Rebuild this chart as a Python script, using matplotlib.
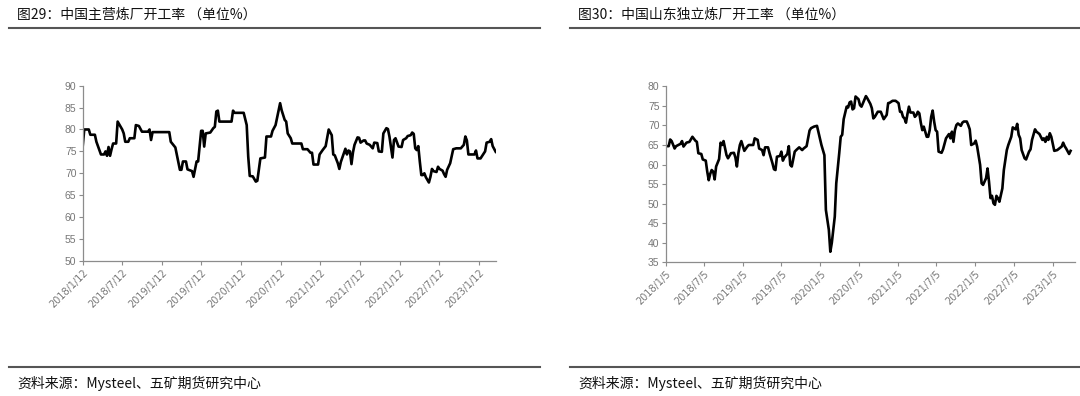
import numpy as np
import pandas as pd
import matplotlib
matplotlib.use("Agg")
import matplotlib.pyplot as plt
from matplotlib.lines import Line2D

plt.rcParams['font.family'] = ['Noto Sans CJK SC', 'DejaVu Sans']

# Fig.29: China main refineries operating rate (weeks since 2018/1/12)
main_start = "2018-01-12"
main_weeks = [0, 1, 4, 5, 8, 9, 11, 12, 14, 15, 16, 17, 18, 19, 20, 22, 23, 25, 26, 27,
              28, 30, 31, 34, 35, 37, 39, 43, 44, 45, 46, 57, 58, 61, 62, 64, 65, 66, 68, 69,
              72, 73, 75, 76, 78, 79, 80, 81, 84, 86, 87, 88, 89, 90, 98, 99, 100, 106, 108, 109,
              110, 112, 114, 115, 117, 120, 121, 124, 125, 127, 130, 131, 133, 134, 135, 137, 138, 144, 145, 148,
              150, 151, 152, 155, 156, 158, 160, 162, 164, 165, 166, 168, 169, 170, 172, 173, 174, 175, 176, 177,
              178, 179, 181, 182, 183, 185, 186, 187, 189, 191, 192, 194, 195, 197, 198, 200, 201, 202, 204, 205,
              206, 208, 210, 211, 213, 214, 216, 217, 218, 219, 220, 221, 222, 223, 224, 225, 226, 228, 229, 230,
              231, 233, 234, 235, 237, 238, 239, 240, 242, 244, 246, 249, 251, 252, 253, 254, 258, 259, 260, 262,
              265, 266, 268, 269, 270, 272]
main_rate = [76.2, 80.0, 80.0, 78.8, 78.8, 77.2, 75.3, 74.3, 74.3, 75.0, 74.0, 76.0, 74.0, 75.5, 76.8, 76.8, 81.8, 80.6, 80.0, 79.1,
             77.2, 77.2, 78.0, 78.0, 81.0, 80.8, 79.5, 79.5, 80.0, 77.6, 79.4, 79.4, 77.2, 75.9, 74.2, 70.8, 70.8, 72.7, 72.7, 70.9,
             70.5, 69.2, 72.7, 72.7, 79.7, 79.7, 76.1, 79.1, 79.3, 80.3, 80.6, 84.1, 84.3, 81.8, 81.8, 84.3, 83.8, 83.8, 81.0, 73.8,
             69.4, 69.3, 68.1, 68.3, 73.4, 73.6, 78.4, 78.4, 79.7, 81.0, 86.0, 84.4, 82.2, 81.8, 79.1, 78.0, 76.8, 76.8, 75.5, 75.5,
             74.7, 74.7, 72.0, 72.0, 74.3, 75.3, 76.2, 80.0, 78.7, 74.3, 74.1, 72.3, 71.0, 72.6, 74.6, 75.6, 74.3, 75.2, 75.0, 72.1,
             74.8, 76.5, 78.2, 78.1, 77.0, 77.5, 77.5, 76.8, 76.5, 75.7, 77.0, 76.9, 75.0, 74.9, 79.1, 80.3, 80.1, 78.4, 73.6, 77.6,
             78.0, 76.1, 76.0, 77.6, 78.0, 78.5, 78.7, 79.3, 79.0, 75.7, 75.3, 76.2, 72.7, 69.6, 69.6, 70.0, 69.1, 67.9, 69.2, 71.0,
             70.5, 70.3, 71.5, 71.0, 70.6, 69.8, 69.2, 70.8, 72.3, 75.5, 75.7, 75.7, 76.5, 78.4, 77.5, 74.3, 74.3, 75.2, 73.4, 73.4,
             75.0, 77.0, 77.2, 77.8, 76.2, 74.9]

# Fig.30: Shandong independent refineries operating rate (weeks since 2018/1/5)
sd_start = "2018-01-05"
sd_weeks = [0, 2, 3, 4, 6, 7, 10, 11, 12, 14, 16, 18, 20, 21, 22, 24, 25, 27, 28, 29,
            30, 31, 32, 33, 34, 36, 37, 38, 39, 41, 42, 44, 46, 47, 48, 49, 50, 51, 52, 53,
            55, 56, 59, 60, 62, 63, 65, 66, 67, 69, 70, 72, 73, 74, 75, 77, 78, 79, 80, 82,
            83, 84, 85, 87, 88, 90, 92, 93, 95, 97, 98, 100, 102, 104, 105, 107, 108, 110, 111, 112,
            114, 115, 117, 118, 119, 120, 122, 123, 124, 125, 126, 127, 128, 130, 131, 132, 133, 135, 136, 138,
            139, 140, 141, 143, 145, 147, 149, 150, 151, 153, 155, 157, 158, 159, 160, 161, 162, 163, 164, 165,
            167, 168, 169, 170, 171, 172, 173, 174, 176, 177, 178, 179, 180, 181, 182, 183, 184, 186, 187, 189,
            191, 192, 193, 194, 195, 196, 197, 199, 200, 201, 203, 204, 205, 206, 208, 209, 210, 212, 213, 214,
            216, 217, 218, 219, 220, 221, 222, 223, 224, 225, 227, 228, 230, 231, 233, 234, 236, 237, 238, 239,
            240, 242, 243, 245, 246, 247, 249, 250, 252, 254, 255, 256, 257, 258, 259, 260, 262, 264, 266, 267,
            268, 269, 270, 272, 273]
sd_rate = [64.7, 64.7, 66.4, 66.0, 64.1, 64.7, 65.3, 66.0, 64.6, 65.6, 65.8, 67.1, 66.1, 65.8, 62.9, 62.7, 61.3, 61.0, 58.2, 56.0,
           57.6, 58.6, 58.2, 56.2, 59.5, 61.4, 65.6, 65.0, 66.0, 62.4, 61.6, 62.9, 63.0, 61.8, 59.5, 62.9, 65.0, 66.0, 64.7, 63.5,
           64.6, 65.0, 65.0, 66.7, 66.3, 64.1, 63.7, 62.4, 64.4, 64.4, 62.9, 60.3, 58.8, 58.6, 62.0, 62.2, 63.3, 61.0, 61.8, 62.7,
           64.7, 59.9, 59.5, 63.3, 63.7, 64.4, 63.7, 64.1, 64.7, 68.7, 69.3, 69.7, 69.9, 66.7, 65.0, 62.4, 48.4, 43.3, 37.7, 40.0,
           46.7, 55.2, 62.9, 67.1, 67.6, 71.6, 74.8, 74.6, 75.9, 76.1, 74.1, 74.4, 77.4, 76.7, 75.2, 74.8, 75.7, 77.5, 76.9, 75.5,
           74.4, 71.8, 72.2, 73.5, 73.5, 71.6, 72.7, 75.7, 75.8, 76.3, 76.3, 75.7, 73.5, 73.5, 72.2, 71.8, 70.7, 72.9, 74.8, 73.3,
           73.3, 72.2, 72.6, 73.5, 73.1, 70.7, 68.8, 69.7, 67.1, 67.1, 68.8, 72.2, 73.8, 71.0, 68.8, 68.4, 63.3, 63.0, 63.9, 66.7,
           67.8, 66.7, 68.4, 65.8, 68.8, 70.1, 70.5, 69.9, 70.7, 71.0, 71.0, 70.1, 69.0, 65.0, 65.4, 66.1, 64.6, 59.9, 55.2, 54.8,
           56.5, 59.0, 55.6, 51.4, 52.0, 50.1, 49.7, 52.0, 51.4, 50.5, 53.9, 58.6, 63.7, 65.0, 67.1, 69.5, 69.0, 70.4, 67.6, 66.7,
           63.7, 61.6, 61.3, 63.3, 63.9, 66.3, 69.0, 68.4, 67.8, 66.3, 66.7, 65.8, 67.1, 66.3, 68.0, 67.1, 63.5, 63.7, 64.3, 64.6,
           65.6, 64.7, 64.1, 62.7, 63.5]

main_title = "图29：中国主营炼厂开工率 （单位%）"
sd_title = "图30：中国山东独立炼厂开工率 （单位%）"
source = "资料来源：Mysteel、五矿期货研究中心"


def to_dates(start, weeks):
    return pd.Timestamp(start) + pd.to_timedelta(np.array(weeks) * 7, unit="D")


def draw(ax, start, weeks, rate, ylim, xmax_weeks):
    ax.plot(to_dates(start, weeks), rate, color="black", lw=1.9)
    t0 = pd.Timestamp(start)
    ticks = [t0 + pd.DateOffset(months=6 * k) for k in range(11)]
    ax.set_xticks(ticks)
    ax.set_xticklabels([f"{d.year}/{d.month}/{d.day}" for d in ticks],
                       rotation=45, ha="right", rotation_mode="anchor",
                       family=["DejaVu Sans"], fontsize=7)
    ax.set_xlim(t0, t0 + pd.Timedelta(days=7 * xmax_weeks))
    ax.set_ylim(*ylim)
    ax.set_yticks(np.arange(ylim[0], ylim[1] + 1, 5))
    ax.set_yticklabels([str(v) for v in ax.get_yticks().astype(int)],
                       family=["Liberation Sans", "DejaVu Sans"], fontsize=7.5)
    for s in ("top", "right"):
        ax.spines[s].set_visible(False)
    for s in ("left", "bottom"):
        ax.spines[s].set_color("#8c8c8c")
        ax.spines[s].set_linewidth(0.9)
    ax.tick_params(axis="both", colors="#8c8c8c", labelcolor="#777777",
                   length=3, width=0.8, pad=1.5)


fig = plt.figure(figsize=(10.8, 3.96), dpi=100)

ax1 = fig.add_axes([0.0766, 0.341, 0.3824, 0.4427])
draw(ax1, main_start, main_weeks, main_rate, (50, 90), 272)

ax2 = fig.add_axes([0.6164, 0.3376, 0.379, 0.4444])
draw(ax2, sd_start, sd_weeks, sd_rate, (35, 80), 276)

# headers and footers
W, H = 1080, 396
for x0, x1 in ((9, 540), (570, 1080)):
    fig.add_artist(Line2D([x0 / W, x1 / W], [1 - 28 / H, 1 - 28 / H], color="#555555", lw=1.5))
    fig.add_artist(Line2D([x0 / W, x1 / W], [1 - 367 / H, 1 - 367 / H], color="#555555", lw=1.5))

fig.text(17 / W, 1 - 15 / H, main_title, fontsize=10, va="center", ha="left", color="#111111")
fig.text(578 / W, 1 - 15 / H, sd_title, fontsize=10, va="center", ha="left", color="#111111")
fig.text(17 / W, 1 - 383 / H, source, fontsize=10, va="center", ha="left", color="#111111")
fig.text(578 / W, 1 - 383 / H, source, fontsize=10, va="center", ha="left", color="#111111")

fig.savefig("out.png", dpi=100)
